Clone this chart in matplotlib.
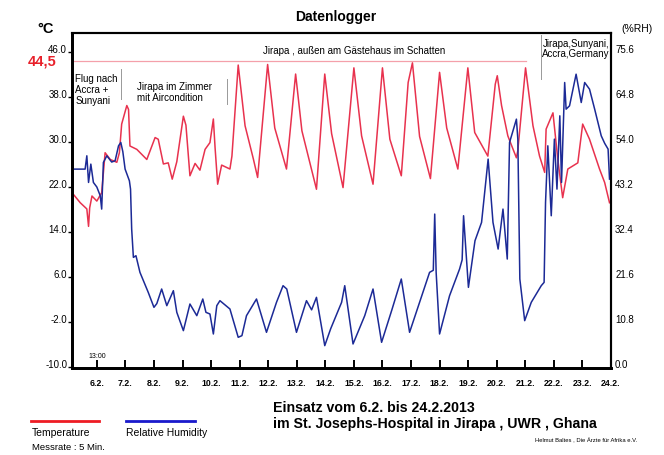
import numpy as np
import matplotlib
matplotlib.use("Agg")
import matplotlib.pyplot as plt
import matplotlib.transforms as mtrans

plt.rcParams['font.family'] = ['Liberation Sans', 'DejaVu Sans']

# temperature readings (day of February, deg C)
temp_day = [5.13, 5.42, 5.65, 5.71, 5.75, 5.83, 6.00, 6.17, 6.29, 6.47, 6.70, 6.79, 6.87,
            7.05, 7.11, 7.16, 7.40, 7.75, 8.04, 8.15, 8.33, 8.50, 8.64, 8.80, 9.03, 9.12,
            9.26, 9.44, 9.61, 9.79, 9.96, 10.08, 10.14, 10.23, 10.37, 10.66, 10.73, 10.95,
            11.19, 11.48, 11.63, 11.98, 12.23, 12.64, 12.96, 13.18, 13.69, 13.98, 14.22,
            14.62, 15.00, 15.27, 15.67, 16.00, 16.26, 16.66, 16.90, 17.05, 17.30, 17.68,
            18.00, 18.25, 18.64, 18.99, 19.23, 19.69, 19.95, 20.02, 20.17, 20.39, 20.69,
            20.74, 21.01, 21.27, 21.50, 21.68, 21.73, 21.97, 22.14, 22.31, 22.49, 22.84,
            23.01, 23.25, 23.60, 23.78, 23.95]
temp_c = [21.0, 19.2, 18.1, 15.0, 18.3, 20.4, 19.5, 21.0, 28.1, 26.9, 26.4, 28.1, 33.2,
          36.5, 35.8, 29.3, 28.7, 26.9, 30.8, 30.5, 26.1, 26.3, 23.4, 26.5, 34.6, 33.0,
          24.0, 26.2, 25.0, 28.7, 29.9, 34.1, 29.0, 22.5, 25.9, 25.2, 27.5, 43.7,
          32.9, 27.0, 23.7, 43.8, 32.5, 25.2, 42.1, 32.0, 21.6, 42.1, 31.5,
          21.9, 43.2, 31.1, 22.5, 43.2, 30.5, 24.0, 40.6, 44.1, 31.0, 23.5,
          42.4, 32.5, 25.2, 43.2, 31.7, 27.5, 40.3, 41.8, 36.5, 31.1, 27.2,
          28.5, 43.2, 32.9, 27.5, 24.6, 32.3, 35.2, 26.9, 20.1, 25.2, 26.3,
          33.2, 30.5, 25.2, 22.8, 19.2]

# relative humidity readings (day of February, %RH)
hum_day = [5.13, 5.59, 5.65, 5.71, 5.79, 5.88, 6.00, 6.12, 6.17, 6.23, 6.35, 6.52, 6.64,
           6.76, 6.84, 6.91, 6.99, 7.14, 7.18, 7.22, 7.28, 7.37, 7.51, 7.80, 8.00, 8.10,
           8.27, 8.45, 8.68, 8.80, 9.03, 9.26, 9.50, 9.71, 9.82, 9.96, 10.08, 10.20, 10.31,
           10.66, 10.95, 11.08, 11.24, 11.59, 11.94, 12.29, 12.52, 12.65, 12.99, 13.34,
           13.52, 13.69, 13.98, 14.19, 14.57, 14.68, 14.97, 15.38, 15.67, 15.97, 16.33,
           16.66, 16.95, 17.30, 17.65, 17.78, 17.83, 17.88, 18.00, 18.35, 18.70, 18.79,
           18.84, 19.01, 19.24, 19.47, 19.70, 19.87, 20.05, 20.22, 20.37, 20.45, 20.69,
           20.74, 20.81, 20.98, 21.21, 21.56, 21.66, 21.71, 21.79, 21.91, 22.02, 22.11,
           22.21, 22.27, 22.38, 22.43, 22.55, 22.78, 22.96, 23.08, 23.25, 23.43, 23.66,
           23.78, 23.90, 23.95]
hum_rh = [47.5, 47.5, 50.7, 44.3, 48.7, 44.3, 43.2, 41.1, 37.9, 49.1, 50.7, 49.2, 49.5,
          53.1, 53.9, 51.7, 47.5, 44.7, 42.7, 33.1, 26.3, 26.7, 22.7, 17.9, 14.3, 15.2,
          18.7, 14.7, 18.3, 13.1, 8.7, 15.1, 12.3, 16.3, 13.1, 12.7, 7.9, 14.7, 15.9,
          13.9, 7.1, 7.5, 12.3, 16.3, 8.3, 15.5, 19.5, 18.7, 8.3, 15.9,
          13.7, 16.7, 5.1, 9.2, 15.5, 19.5, 5.5, 12.3, 18.7, 5.9, 13.7,
          21.1, 8.3, 15.5, 22.7, 23.2, 36.7, 22.7, 7.9, 17.1, 23.5, 25.7,
          36.3, 19.1, 30.3, 34.7, 49.9, 34.7, 28.3, 37.9, 25.9, 53.9, 59.5,
          54.7, 21.1, 11.1, 15.5, 19.5, 20.3, 39.5, 53.1, 36.3, 54.7, 42.7,
          60.3, 44.3, 68.3, 61.9, 62.7, 70.3, 63.5, 68.3, 66.7, 61.9, 55.5,
          53.7, 52.3, 45.1]

day_ticks = list(range(6, 25))
day_labels = [f"{d}.2." for d in day_ticks]
temp_ticks = [-10, -2, 6, 14, 22, 30, 38, 46]
rh_ticks = [0.0, 10.8, 21.6, 32.4, 43.2, 54.0, 64.8, 75.6]
t_max = 44.5

red = '#e8324e'
blue = '#1c2a96'

fig = plt.figure(figsize=(6.64, 4.56), dpi=100)
ax = fig.add_axes([0.1084, 0.1908, 0.8117, 0.7346])
ax2 = ax.twinx()

t_lo, t_hi = -10.2, 49.4
ax.set_ylim(t_lo, t_hi)
ax2.set_ylim((t_lo + 10) * 1.35, (t_hi + 10) * 1.35)
ax.set_xlim(5.13, 24.0)

ax.plot(temp_day, temp_c, color=red, lw=1.1)
ax2.plot(hum_day, hum_rh, color=blue, lw=1.1)

# max temperature line and section dividers
ax.plot([5.13, 21.03], [t_max, t_max], color='#f4a0aa', lw=0.9)
ax.plot([6.83, 6.83], [37.6, 43.0], color='#999999', lw=0.7)
ax.plot([10.56, 10.56], [36.8, 41.2], color='#999999', lw=0.7)
ax.plot([21.54, 21.54], [41.2, 49.0], color='#999999', lw=0.7)

ax.text(5.25, 42.2, "Flug nach\nAccra +\nSunyani", fontsize=7, va='top', linespacing=1.1)
ax.text(7.4, 40.8, "Jirapa im Zimmer\nmit Aircondition", fontsize=7, va='top', linespacing=1.1)
ax.text(15.0, 46.4, "Jirapa , außen am Gästehaus im Schatten", fontsize=7, ha='center', va='center')
ax.text(21.6, 48.6, "Jirapa,Sunyani,\nAccra,Germany", fontsize=7, va='top', linespacing=1.1)
ax.text(6.0, -8.0, "13:00", fontsize=5, ha='center', va='center')

trans = mtrans.blended_transform_factory(fig.transFigure, ax.transData)
ax.text(0.064, t_max, "44,5", transform=trans, color='#e8202a', fontsize=10.5,
        fontweight='bold', ha='center', va='center')

ax.set_xticks(day_ticks)
ax.set_xticklabels(day_labels, fontsize=6.3, fontweight='bold')
ax.tick_params(axis='x', direction='in', length=5.5, width=1.4, pad=7)
ax.set_yticks(temp_ticks)
ax.set_yticklabels([f"{v:.1f}" for v in temp_ticks], fontsize=7, va='baseline')
ax.tick_params(axis='y', direction='out', length=3, width=1, pad=0.5)
ax2.set_yticks(rh_ticks)
ax2.set_yticklabels([f"{v:.1f}" for v in rh_ticks], fontsize=7, va='baseline')
ax2.tick_params(axis='y', direction='out', length=0, pad=3)

for side, w in [('left', 2.0), ('bottom', 2.0), ('top', 1.5), ('right', 1.5)]:
    ax.spines[side].set_linewidth(w)
    ax2.spines[side].set_linewidth(w)

fig.text(0.505, 0.963, "Datenlogger", fontsize=10, fontweight='bold', ha='center', va='center')
fig.text(0.069, 0.936, "°C", fontsize=10.5, fontweight='bold', ha='center', va='center')
fig.text(0.959, 0.936, "(%RH)", fontsize=7.5, ha='center', va='center')

# legend and footer
fig.add_artist(plt.Line2D([31/664, 99/664], [1-422/456, 1-422/456], color='#ee1c24', lw=2))
fig.add_artist(plt.Line2D([126/664, 195/664], [1-422/456, 1-422/456], color='#1a1acc', lw=2))
fig.text(32/664, 1-433/456, "Temperature", fontsize=7.5, va='center')
fig.text(126/664, 1-433/456, "Relative Humidity", fontsize=7.5, va='center')
fig.text(32/664, 1-448/456, "Messrate : 5 Min.", fontsize=6.8, va='center')
fig.text(273/664, 1-408/456, "Einsatz vom 6.2. bis 24.2.2013", fontsize=10.2,
         fontweight='bold', va='center')
fig.text(273/664, 1-424/456, "im St. Josephs-Hospital in Jirapa , UWR , Ghana", fontsize=10.2,
         fontweight='bold', va='center')
fig.text(637/664, 1-441/456, "Helmut Baltes , Die Ärzte für Afrika e.V.", fontsize=4.2,
         ha='right', va='center')

fig.savefig("out.png", dpi=100)
